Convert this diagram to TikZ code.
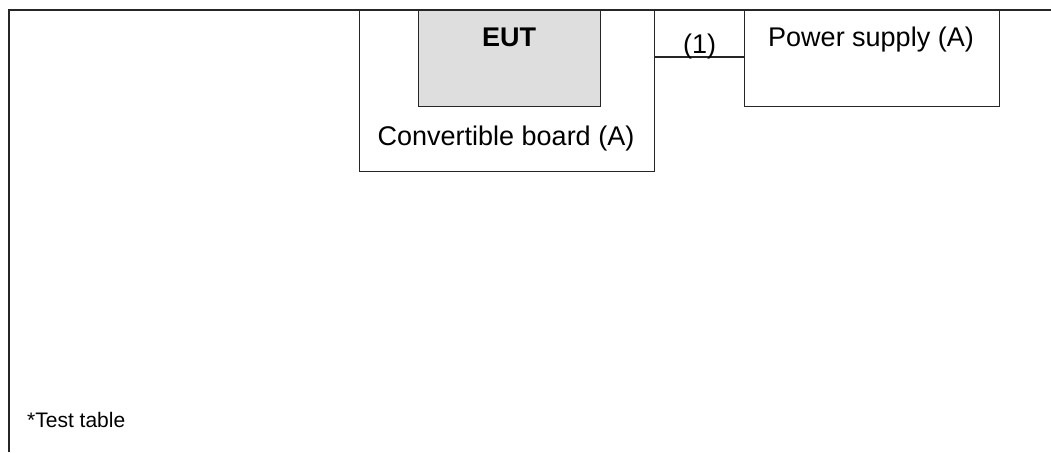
\documentclass[tikz,border=0pt]{standalone}
\usepackage{fontspec}
\setmainfont{Liberation Sans}
\begin{document}
\begin{tikzpicture}[x=1pt,y=-1pt,
  frame/.style={line width=1.2pt, draw=black!85},
  boxstyle/.style={frame, anchor=north west, inner sep=0pt},
  lbl/.style={anchor=base, inner sep=0pt, font=\fontsize{27}{32}\selectfont},
  small/.style={anchor=base west, inner sep=0pt, font=\fontsize{21}{25}\selectfont}]
\useasboundingbox (0,0) rectangle (1051,452);
% table border
\draw[frame] (9,452) -- (9,10) -- (1051,10);
% boxes
\node[boxstyle, minimum width=295pt, minimum height=161pt] (board) at (359,10) {};
\node[boxstyle, fill=black!13, minimum width=182pt, minimum height=96pt] (eut) at (418,10) {};
\node[boxstyle, minimum width=255pt, minimum height=96pt] (psu) at (744,10) {};
% texts
\node[lbl, font=\fontsize{27}{32}\selectfont\bfseries] (eutt) at (509,47) {EUT};
\node[lbl] (boardt) at (506,145) {Convertible board (A)};
\node[lbl] (psut) at (871,46) {Power supply (A)};
% connector
\coordinate (lk) at (0,57);
\draw[frame] (board.east |- lk) -- (psu.west |- lk) node[midway, above=3pt, lbl, anchor=base] (c1) {(1)};
\node[small] (tt) at (27,427) {*Test table};
\end{tikzpicture}
\end{document}
